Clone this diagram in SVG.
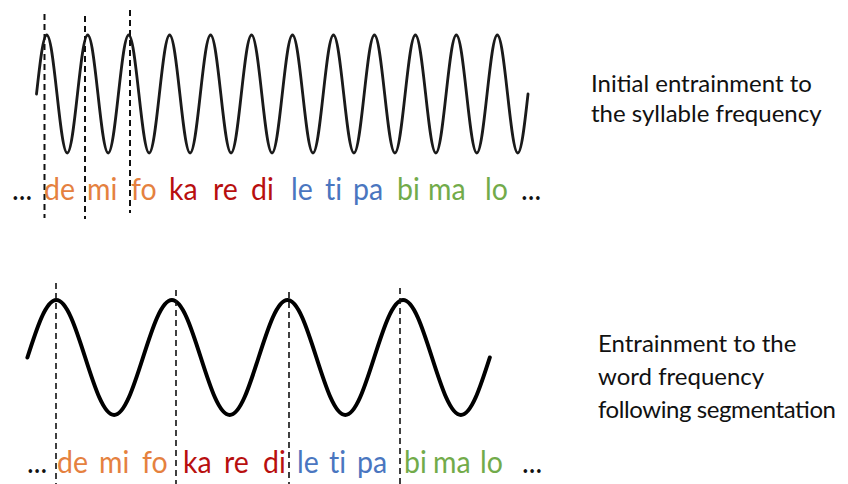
<svg xmlns="http://www.w3.org/2000/svg" width="848" height="484" viewBox="0 0 848 484">
<defs>
<style>
.wave1{fill:none;stroke:#1a1a1a;stroke-width:2.8;stroke-linecap:round;stroke-linejoin:round}
.wave2{fill:none;stroke:#000;stroke-width:4;stroke-linecap:round;stroke-linejoin:round}
.dash{stroke:#111;stroke-width:2;stroke-dasharray:6 4;fill:none}
.dash2{stroke:#111;stroke-width:1.6;stroke-dasharray:6 4;fill:none}
.syl{font-family:Lato,"Open Sans",sans-serif;font-size:31px;font-variant-ligatures:none}
.lbl{font-family:Lato,"Open Sans",sans-serif;font-size:24px;fill:#111}
.k{fill:#111}
.o{fill:#E5813F}
.r{fill:#B80F0F}
.b{fill:#4A76C0}
.g{fill:#72AB4A}
</style>
</defs>
<rect width="848" height="484" fill="#fff"/>
<g id="connectors">
<g id="syllable-wave">
<path class="wave1" d="M36.5,94 c3.34,-30.23 6.534,-59 10.24,-59 c3.706,0 6.9,28.77 10.24,59 c3.34,30.23 6.534,59 10.24,59 c3.706,0 6.9,-28.77 10.24,-59 c3.34,-30.23 6.534,-59 10.24,-59 c3.706,0 6.9,28.77 10.24,59 c3.34,30.23 6.534,59 10.24,59 c3.706,0 6.9,-28.77 10.24,-59 c3.34,-30.23 6.534,-59 10.24,-59 c3.706,0 6.9,28.77 10.24,59 c3.34,30.23 6.534,59 10.24,59 c3.706,0 6.9,-28.77 10.24,-59 c3.34,-30.23 6.534,-59 10.24,-59 c3.706,0 6.9,28.77 10.24,59 c3.34,30.23 6.534,59 10.24,59 c3.706,0 6.9,-28.77 10.24,-59 c3.34,-30.23 6.534,-59 10.24,-59 c3.706,0 6.9,28.77 10.24,59 c3.34,30.23 6.534,59 10.24,59 c3.706,0 6.9,-28.77 10.24,-59 c3.34,-30.23 6.534,-59 10.24,-59 c3.706,0 6.9,28.77 10.24,59 c3.34,30.23 6.534,59 10.24,59 c3.706,0 6.9,-28.77 10.24,-59 c3.34,-30.23 6.534,-59 10.24,-59 c3.706,0 6.9,28.77 10.24,59 c3.34,30.23 6.534,59 10.24,59 c3.706,0 6.9,-28.77 10.24,-59 c3.34,-30.23 6.534,-59 10.24,-59 c3.706,0 6.9,28.77 10.24,59 c3.34,30.23 6.534,59 10.24,59 c3.706,0 6.9,-28.77 10.24,-59 c3.34,-30.23 6.534,-59 10.24,-59 c3.706,0 6.9,28.77 10.24,59 c3.34,30.23 6.534,59 10.24,59 c3.706,0 6.9,-28.77 10.24,-59 c3.34,-30.23 6.534,-59 10.24,-59 c3.706,0 6.9,28.77 10.24,59 c3.34,30.23 6.534,59 10.24,59 c3.706,0 6.9,-28.77 10.24,-59 c3.34,-30.23 6.534,-59 10.24,-59 c3.706,0 6.9,28.77 10.24,59 c3.34,30.23 6.534,59 10.24,59 c3.706,0 6.9,-28.77 10.24,-59 c3.34,-30.23 6.534,-59 10.24,-59 c3.706,0 6.9,28.77 10.24,59 c3.34,30.23 6.534,59 10.24,59 c3.706,0 6.9,-28.77 10.24,-59"/>
</g>
<g id="word-wave">
<path class="wave2" d="M27.4,357.5 c9.425,-29.46 18.44,-57.5 28.9,-57.5 c10.46,0 19.475,28.04 28.9,57.5 c9.425,29.46 18.44,57.5 28.9,57.5 c10.46,0 19.475,-28.04 28.9,-57.5 c9.425,-29.46 18.44,-57.5 28.9,-57.5 c10.46,0 19.475,28.04 28.9,57.5 c9.425,29.46 18.44,57.5 28.9,57.5 c10.46,0 19.475,-28.04 28.9,-57.5 c9.425,-29.46 18.44,-57.5 28.9,-57.5 c10.46,0 19.475,28.04 28.9,57.5 c9.425,29.46 18.44,57.5 28.9,57.5 c10.46,0 19.475,-28.04 28.9,-57.5 c9.425,-29.46 18.44,-57.5 28.9,-57.5 c10.46,0 19.475,28.04 28.9,57.5 c9.425,29.46 18.44,57.5 28.9,57.5 c10.46,0 19.475,-28.04 28.9,-57.5"/>
</g>
<g id="syllable-markers">
<line class="dash" x1="44.5" y1="14" x2="44.5" y2="218"/>
<line class="dash" x1="85" y1="16" x2="85" y2="219"/>
<line class="dash" x1="130" y1="10" x2="130" y2="213"/>
</g>
<g id="word-markers">
<line class="dash2" x1="56" y1="283" x2="56" y2="484"/>
<line class="dash2" x1="176" y1="290" x2="176" y2="484"/>
<line class="dash2" x1="289" y1="292" x2="289" y2="484"/>
<line class="dash2" x1="400" y1="288" x2="400" y2="484"/>
</g>
</g>
<g id="syllables-top" class="syl" transform="scale(0.92 1)">
<text class="k" x="13.04" y="200">...</text>
<text class="o" x="47.83" y="200">de</text>
<text class="o" x="94.57" y="200">mi</text>
<text class="o" x="142.39" y="200">fo</text>
<text class="r" x="183.70" y="200">ka</text>
<text class="r" x="231.52" y="200">re</text>
<text class="r" x="272.83" y="200">di</text>
<text class="b" x="316.30" y="200">le</text>
<text class="b" x="353.26" y="200">ti</text>
<text class="b" x="383.70" y="200">pa</text>
<text class="g" x="431.52" y="200">bi</text>
<text class="g" x="465.22" y="200">ma</text>
<text class="g" x="527.17" y="200">lo</text>
<text class="k" x="566.30" y="200">...</text>
</g>
<g id="syllables-bottom" class="syl" transform="scale(0.92 1)">
<text class="k" x="29.35" y="473">...</text>
<text class="o" x="61.96" y="473">de</text>
<text class="o" x="107.61" y="473">mi</text>
<text class="o" x="154.35" y="473">fo</text>
<text class="r" x="198.91" y="473">ka</text>
<text class="r" x="243.48" y="473">re</text>
<text class="r" x="285.87" y="473">di</text>
<text class="b" x="322.83" y="473">le</text>
<text class="b" x="357.61" y="473">ti</text>
<text class="b" x="388.04" y="473">pa</text>
<text class="g" x="439.13" y="473">bi</text>
<text class="g" x="470.65" y="473">ma</text>
<text class="g" x="521.74" y="473">lo</text>
<text class="k" x="567.39" y="473">...</text>
</g>
<g id="label-top" class="lbl">
<text x="591" y="92">Initial entrainment to</text>
<text x="591" y="122">the syllable frequency</text>
</g>
<g id="label-bottom" class="lbl">
<text x="598" y="352">Entrainment to the</text>
<text x="598" y="385">word frequency</text>
<text x="598" y="418" textLength="238" lengthAdjust="spacing">following segmentation</text>
</g>
</svg>
